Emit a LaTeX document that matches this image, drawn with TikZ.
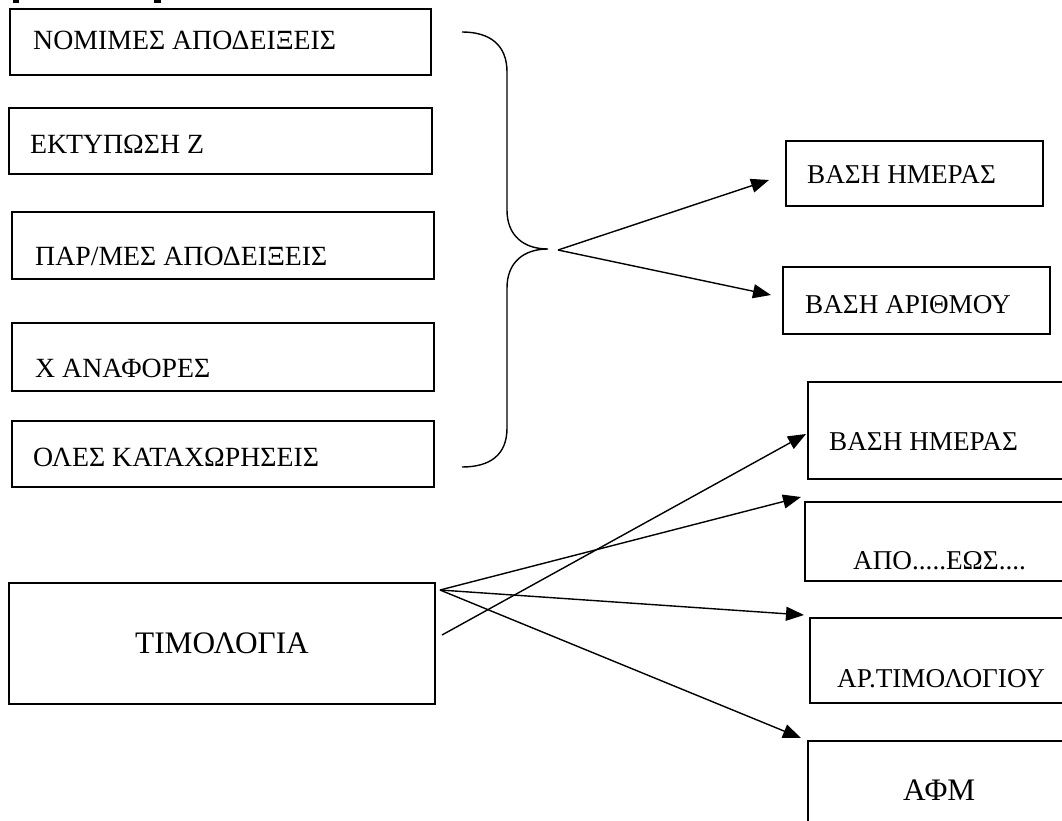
\documentclass[tikz,border=0pt]{standalone}
\usepackage{fontspec}
\setmainfont{Liberation Serif}
\usetikzlibrary{arrows.meta}
\begin{document}
\begin{tikzpicture}[x=1pt,y=-1pt,
  boxst/.style={draw, line width=1.5pt, anchor=north west, inner sep=0pt, outer sep=0pt},
  lbl/.style={anchor=base west, inner sep=0pt, font=\fontsize{27.8}{32}\selectfont},
  rlbl/.style={anchor=base west, inner sep=0pt, font=\fontsize{27.2}{31}\selectfont},
  biglbl/.style={anchor=base west, inner sep=0pt, font=\fontsize{31.3}{36}\selectfont},
  arr/.style={line width=1.4pt, -{Triangle[length=18pt,width=14pt]}},
  brace/.style={line width=1.4pt}]
\clip (0,0) rectangle (1062,821);
\fill[white] (0,0) rectangle (1062,821);
% small marks at the top
\fill[black] (13,0) rectangle (19,3);
\fill[black] (154,0) rectangle (161,3);
% left boxes
\node[boxst, minimum width=421pt, minimum height=66pt] (b1) at (10,9) {};
\node[boxst, minimum width=423pt, minimum height=66pt] (b2) at (9,108) {};
\node[boxst, minimum width=422pt, minimum height=67pt] (b3) at (12,212) {};
\node[boxst, minimum width=422pt, minimum height=68pt] (b4) at (12,323) {};
\node[boxst, minimum width=422pt, minimum height=66pt] (b5) at (12,421) {};
\node[boxst, minimum width=426pt, minimum height=121pt] (tim) at (9,583) {};
\node[lbl] (t1) at (33,50) {ΝΟΜΙΜΕΣ ΑΠΟΔΕΙΞΕΙΣ};
\node[lbl] (t2) at (30,154) {ΕΚΤΥΠΩΣΗ Ζ};
\node[lbl] (t3) at (35,265) {ΠΑΡ/ΜΕΣ ΑΠΟΔΕΙΞΕΙΣ};
\node[lbl] (t4) at (35,377) {Χ ΑΝΑΦΟΡΕΣ};
\node[lbl] (t5) at (33,466) {ΟΛΕΣ ΚΑΤΑΧΩΡΗΣΕΙΣ};
\node[biglbl] (tt) at (135,653) {ΤΙΜΟΛΟΓΙΑ};
% right top boxes
\node[boxst, minimum width=257pt, minimum height=65pt] (r1) at (786,141) {};
\node[boxst, minimum width=267pt, minimum height=67pt] (r2) at (783,267) {};
\node[rlbl] (tr1) at (807,184) {ΒΑΣΗ ΗΜΕΡΑΣ};
\node[rlbl] (tr2) at (805,313) {ΒΑΣΗ ΑΡΙΘΜΟΥ};
% right lower boxes (cut by the page edge)
\node[boxst, minimum width=280pt, minimum height=97pt] (ra) at (808,382) {};
\node[boxst, minimum width=280pt, minimum height=79pt] (rb) at (805,502) {};
\node[boxst, minimum width=280pt, minimum height=85pt] (rc) at (810,618) {};
\node[boxst, minimum width=280pt, minimum height=110pt] (rd) at (808,741) {};
\node[rlbl] (ta) at (829,450) {ΒΑΣΗ ΗΜΕΡΑΣ};
\node[rlbl] (tb) at (853,569) {ΑΠΟ.....ΕΩΣ....};
\node[rlbl] (tc) at (837,687) {ΑΡ.ΤΙΜΟΛΟΓΙΟΥ};
\node[biglbl] (td) at (903,800) {ΑΦΜ};
% brace
\coordinate (btop) at (462,32);
\coordinate (bbot) at (462,467);
\coordinate (btip) at (548,249);
\draw[brace] (btop) .. controls (490,32) and (507,45) .. (507,72) -- (507,210)
  .. controls (507,236) and (524,249) .. (btip)
  .. controls (524,249) and (507,262) .. (507,288) -- (507,428)
  .. controls (507,455) and (490,467) .. (bbot);
% arrows from the brace
\coordinate (bs) at (558,250);
\coordinate (e1) at (769,180);
\coordinate (e2) at (771,295);
\draw[arr] (bs) -- (e1);
\draw[arr] (bs) -- (e2);
% arrows from TIMOLOGIA
\coordinate (s1) at (440,590);
\coordinate (s2) at (442,635);
\coordinate (ea) at (806,434);
\coordinate (eb) at (801,497);
\coordinate (ec) at (804,615);
\coordinate (ed) at (801,738);
\draw[arr] (s2) -- (ea);
\draw[arr] (s1) -- (eb);
\draw[arr] (s1) -- (ec);
\draw[arr] (s1) -- (ed);
\end{tikzpicture}
\end{document}
